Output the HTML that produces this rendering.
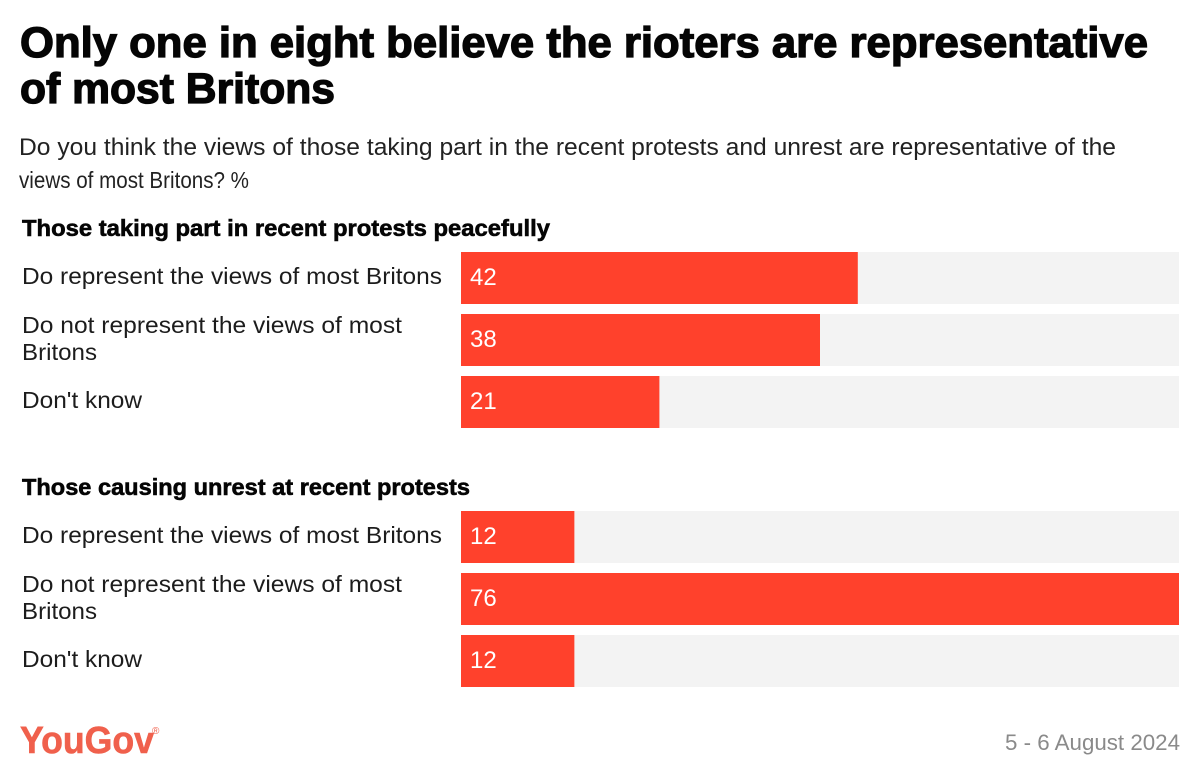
<!DOCTYPE html>
<html lang="en">
<head>
<meta charset="utf-8">
<title>Only one in eight believe the rioters are representative of most Britons</title>
<style>
  html, body { margin: 0; padding: 0; background: #fff; }
  svg { display: block; font-family: "Liberation Sans", sans-serif; }
</style>
</head>
<body>
<svg id="chart" xmlns="http://www.w3.org/2000/svg" width="1200" height="780" viewBox="0 0 1200 780">
  <rect x="0" y="0" width="1200" height="780" fill="#ffffff"/>
  <g font-size="42.5" font-weight="700" fill="#050505" stroke="#050505" stroke-width="1.3">
    <text x="20" y="57" textLength="1128" lengthAdjust="spacingAndGlyphs">Only one in eight believe the rioters are representative</text>
    <text x="20" y="103" textLength="315" lengthAdjust="spacingAndGlyphs">of most Britons</text>
  </g>
  <g fill="#222222">
    <text x="19" y="155" font-size="24.5" textLength="1097" lengthAdjust="spacingAndGlyphs">Do you think the views of those taking part in the recent protests and unrest are representative of the</text>
    <text x="19" y="188" font-size="23.5" textLength="230" lengthAdjust="spacingAndGlyphs">views of most Britons? %</text>
  </g>
  <g id="plot"></g>
  <g fill="#f0604c">
    <text x="20" y="753" font-size="38" font-weight="700" stroke="#f0604c" stroke-width="0.6" textLength="134" lengthAdjust="spacingAndGlyphs">YouGov</text>
    <text x="152" y="734" font-size="10">®</text>
  </g>
  <text x="1005" y="750" font-size="22" fill="#8a8a8a" textLength="175" lengthAdjust="spacingAndGlyphs">5 - 6 August 2024</text>
</svg>
<script>
const groupTitles = ['Those taking part in recent protests peacefully', 'Those causing unrest at recent protests'];
const categories = ['Do represent the views of most Britons', 'Do not represent the views of most Britons', "Don't know"];
const peacefulValues = [42, 38, 21];
const unrestValues = [12, 76, 12];
const axisMax = 76;

const SVG_NS = 'http://www.w3.org/2000/svg';
const plot = document.getElementById('plot');
const plotLeft = 461;
const plotWidth = 718;
const barHeight = 52;
const barStep = 62;
const groupTops = [252, 511];

function xScale(value) {
  return (value / axisMax) * plotWidth;
}
function yScale(groupIndex, rowIndex) {
  return groupTops[groupIndex] + rowIndex * barStep;
}
function svgEl(tag, attrs, text) {
  const el = document.createElementNS(SVG_NS, tag);
  Object.keys(attrs).forEach(function (k) { el.setAttribute(k, attrs[k]); });
  if (text !== undefined) el.textContent = text;
  plot.appendChild(el);
  return el;
}
const labelWidths = { 'Do represent the views of most Britons': 420, 'Do not represent the views of most': 380, 'Britons': 75, "Don't know": 120 };
const headingWidths = [528, 448];

[peacefulValues, unrestValues].forEach(function (values, g) {
  const heading = svgEl('text', {
    x: 22, y: groupTops[g] - 16, 'font-size': 23.5, 'font-weight': 700, fill: '#050505',
    stroke: '#050505', 'stroke-width': 0.6,
    textLength: headingWidths[g], lengthAdjust: 'spacingAndGlyphs'
  }, groupTitles[g]);
  
  

  values.forEach(function (value, i) {
    const top = yScale(g, i);

    const track = svgEl('rect', { x: plotLeft, y: top, width: plotWidth, height: barHeight, fill: '#f3f3f3' });
    
    

    const bar = svgEl('rect', { x: plotLeft, y: top, width: xScale(value), height: barHeight, fill: '#ff412c' });
    
    

    const valueLabel = svgEl('text', { x: plotLeft + 9, y: top + 33, 'font-size': 24, fill: '#ffffff' }, String(value));
    
    

    const name = categories[i];
    const lines = name.length > 40 ? [name.slice(0, name.lastIndexOf(' ')), name.slice(name.lastIndexOf(' ') + 1)] : [name];
    lines.forEach(function (line, l) {
      const baseline = lines.length > 1 ? top + 19 + l * 27 : top + 32;
      const label = svgEl('text', {
        x: 22, y: baseline, 'font-size': 23.5, fill: '#1c1c1c',
        textLength: labelWidths[line], lengthAdjust: 'spacingAndGlyphs'
      }, line);
      
      
    });
  });
});
</script>
</body>
</html>
